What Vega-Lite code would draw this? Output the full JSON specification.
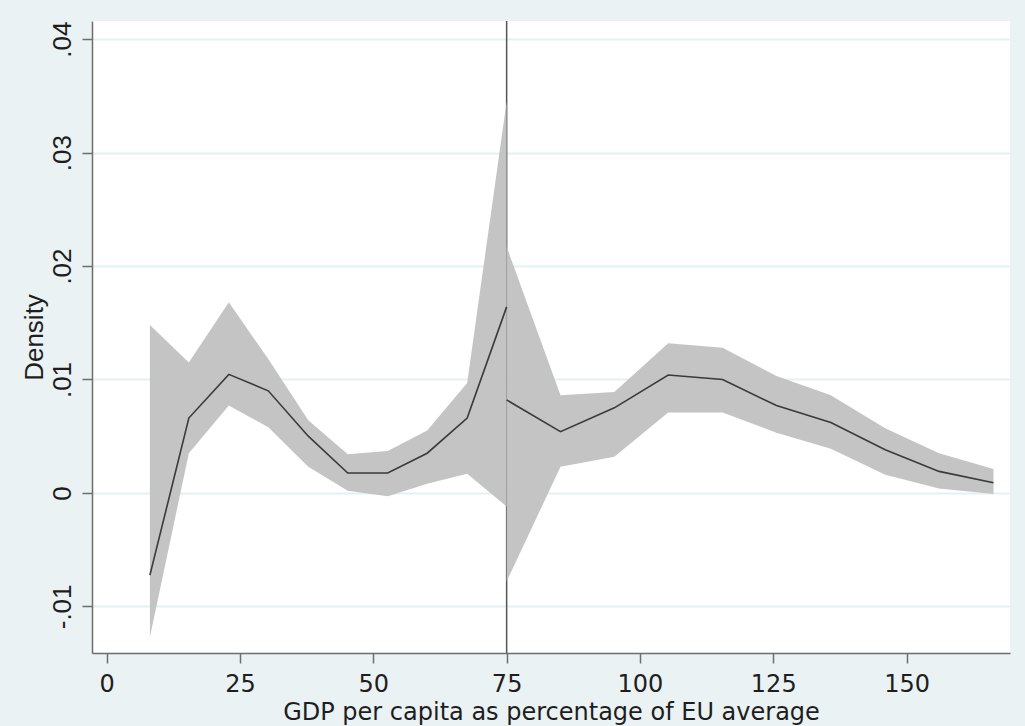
{
  "$schema": "https://vega.github.io/schema/vega-lite/v6.json",
  "width": 918,
  "height": 632,
  "autosize": {"type": "none"},
  "padding": {"left": 92, "top": 21, "right": 15, "bottom": 73},
  "background": "#eaf2f3",
  "config": {
    "view": {"fill": "white", "stroke": null},
    "font": "DejaVu Sans"
  },
  "datasets": {
    "est": [
      {"seg": "left", "x": 8.1, "y": -0.00725, "lo": -0.0127, "hi": 0.0148},
      {"seg": "left", "x": 15.4, "y": 0.0066, "lo": 0.0035, "hi": 0.0115},
      {"seg": "left", "x": 22.9, "y": 0.01045, "lo": 0.0077, "hi": 0.0168},
      {"seg": "left", "x": 30.3, "y": 0.009, "lo": 0.0058, "hi": 0.0118},
      {"seg": "left", "x": 37.8, "y": 0.005, "lo": 0.0023, "hi": 0.0064},
      {"seg": "left", "x": 45.2, "y": 0.00176, "lo": 0.0002, "hi": 0.0034},
      {"seg": "left", "x": 52.7, "y": 0.00176, "lo": -0.0003, "hi": 0.0037},
      {"seg": "left", "x": 60.1, "y": 0.0035, "lo": 0.0008, "hi": 0.0055},
      {"seg": "left", "x": 67.6, "y": 0.0066, "lo": 0.0017, "hi": 0.0097},
      {"seg": "left", "x": 75, "y": 0.0164, "lo": -0.0012, "hi": 0.0345},
      {"seg": "right", "x": 75, "y": 0.0082, "lo": -0.0078, "hi": 0.0217},
      {"seg": "right", "x": 85.1, "y": 0.0054, "lo": 0.0023, "hi": 0.0086},
      {"seg": "right", "x": 95.2, "y": 0.0075, "lo": 0.0032, "hi": 0.0089},
      {"seg": "right", "x": 105.3, "y": 0.0104, "lo": 0.0071, "hi": 0.0132},
      {"seg": "right", "x": 115.5, "y": 0.01, "lo": 0.0071, "hi": 0.0128},
      {"seg": "right", "x": 125.6, "y": 0.0077, "lo": 0.0053, "hi": 0.0103},
      {"seg": "right", "x": 135.8, "y": 0.0062, "lo": 0.0039, "hi": 0.0086},
      {"seg": "right", "x": 146, "y": 0.0038, "lo": 0.0016, "hi": 0.0057},
      {"seg": "right", "x": 156.1, "y": 0.0019, "lo": 0.0004, "hi": 0.0035},
      {"seg": "right", "x": 166.3, "y": 0.0009, "lo": -0.0001, "hi": 0.0021}
    ],
    "cut": [{"x": 75}]
  },
  "layer": [
    {
      "data": {"name": "cut"},
      "mark": {"type": "rule", "color": "#555555", "strokeWidth": 1.5},
      "encoding": {
        "x": {
          "field": "x", "type": "quantitative",
          "scale": {"domain": [-2.76, 169.4], "nice": false, "zero": false},
          "axis": {
            "title": "GDP per capita as percentage of EU average",
            "values": [0, 25, 50, 75, 100, 125, 150],
            "grid": false,
            "domainColor": "#6e6e6e", "domainWidth": 1.5,
            "tickColor": "#6e6e6e", "tickWidth": 1.5, "tickSize": 10,
            "labelFont": "DejaVu Sans", "labelFontSize": 24, "labelColor": "#1e1e1e",
            "labelBaseline": "alphabetic", "labelPadding": 28, "labelFlush": false,
            "titleFont": "DejaVu Sans", "titleFontSize": 24, "titleFontWeight": "normal", "titleColor": "#1e1e1e",
            "titleBaseline": "alphabetic", "titleX": 459, "titleY": 66, "titleAnchor": "middle"
          }
        }
      }
    },
    {
      "data": {"name": "est"},
      "mark": {"type": "area", "color": "#bfbfbf", "opacity": 0.93},
      "encoding": {
        "x": {"field": "x", "type": "quantitative"},
        "y": {
          "field": "lo", "type": "quantitative",
          "scale": {"domain": [-0.01411, 0.0416], "nice": false, "zero": false},
          "axis": {
            "title": "Density",
            "values": [-0.01, 0, 0.01, 0.02, 0.03, 0.04],
            "labelExpr": "datum.value == 0 ? '0' : (datum.value < 0 ? '-' : '') + replace(format(abs(datum.value), '.2f'), '0.', '.')",
            "grid": true, "gridColor": "#e6eff1", "gridWidth": 2,
            "domainColor": "#6e6e6e", "domainWidth": 1.5,
            "tickColor": "#6e6e6e", "tickWidth": 1.5, "tickSize": 10,
            "labelAngle": 270, "labelAlign": "center", "labelBaseline": "alphabetic",
            "labelPadding": 12,
            "labelFont": "Liberation Sans", "labelFontSize": 26, "labelColor": "#1e1e1e",
            "titleFont": "Liberation Sans", "titleFontSize": 26, "titleFontWeight": "normal", "titleColor": "#1e1e1e",
            "titleAngle": 270, "titleBaseline": "alphabetic", "titleAlign": "center",
            "titleX": -50, "titleY": 316
          }
        },
        "y2": {"field": "hi"},
        "detail": {"field": "seg"}
      }
    },
    {
      "data": {"name": "est"},
      "mark": {"type": "line", "color": "#3a3a3a", "strokeWidth": 1.6},
      "encoding": {
        "x": {"field": "x", "type": "quantitative"},
        "y": {"field": "y", "type": "quantitative"},
        "detail": {"field": "seg"}
      }
    }
  ]
}
